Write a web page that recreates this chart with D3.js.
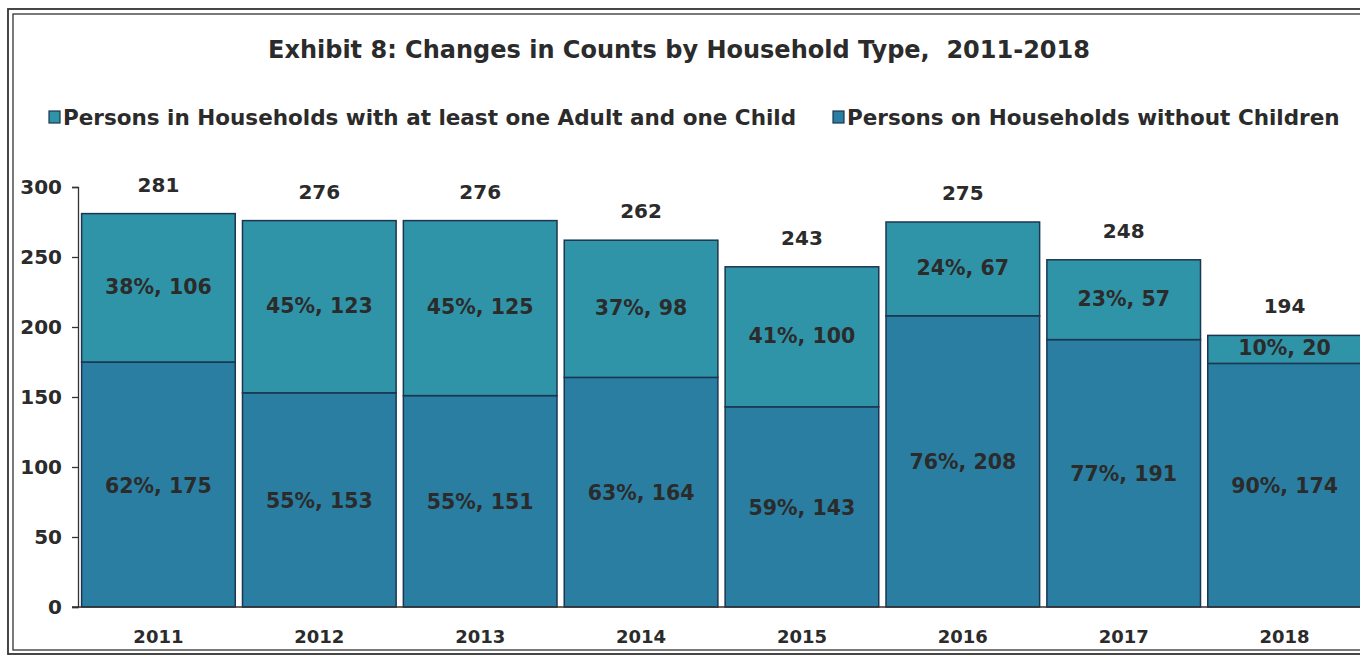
<!DOCTYPE html>
<html>
<head>
<meta charset="utf-8">
<script src="https://cdnjs.cloudflare.com/ajax/libs/d3/7.8.5/d3.min.js"></script>
<style>
  body { margin: 0; background: #fff; overflow: hidden; }
  svg text { font-family: "DejaVu Sans", sans-serif; font-weight: bold; fill: #2b2b2b; }
</style>
</head>
<body>
<svg id="canvas" width="1360" height="657"></svg>
<script>
let years = ['2011', '2012', '2013', '2014', '2015', '2016', '2017', '2018'];
let withChild = [106, 123, 125, 98, 100, 67, 57, 20];
let withChildPct = [38, 45, 45, 37, 41, 24, 23, 10];
let noChild = [175, 153, 151, 164, 143, 208, 191, 174];
let noChildPct = [62, 55, 55, 63, 59, 76, 77, 90];
let yTicks = [0, 50, 100, 150, 200, 250, 300];

let legendNames = ['Persons in Households with at least one Adult and one Child',
                   'Persons on Households without Children'];
let colTop = '#3094a8';
let colBottom = '#2a7ea2';
let edge = '#1c3550';

let svg = d3.select('#canvas');

// double frame
svg.append('rect').attr('x', 8).attr('y', 9).attr('width', 1400).attr('height', 645)
    .attr('fill', 'none').attr('stroke', '#333').attr('stroke-width', 1.8);
svg.append('rect').attr('x', 13).attr('y', 14).attr('width', 1400).attr('height', 636)
    .attr('fill', 'none').attr('stroke', '#333').attr('stroke-width', 1.3);

// title
svg.append('text').attr('x', 679).attr('y', 58).attr('text-anchor', 'middle')
    .style('font-size', '24px').style('white-space', 'pre')
    .text('Exhibit 8: Changes in Counts by Household Type,  2011-2018');

// legend
let legend = [{x: 49, name: legendNames[0], color: colTop},
              {x: 833, name: legendNames[1], color: colBottom}];
legend.forEach((d) => {
    svg.append('rect').attr('x', d.x).attr('y', 111).attr('width', 11).attr('height', 12)
        .attr('fill', d.color).attr('stroke', edge).attr('stroke-width', 1.2);
    svg.append('text').attr('x', d.x + 14).attr('y', 125)
        .style('font-size', '21.5px').text(d.name);
});

let x = d3.scaleBand().domain(years).range([80, 1363]).paddingInner(0.045).paddingOuter(0.01);
let y = d3.scaleLinear().domain([0, 300]).range([607, 187]);

// y axis
let yAxis = svg.append('g').attr('transform', 'translate(78,0)')
    .call(d3.axisLeft(y).tickValues(yTicks).tickSize(6).tickPadding(10));
yAxis.select('.domain').attr('stroke', '#333').attr('stroke-width', 1.3);
yAxis.selectAll('.tick line').attr('stroke', '#333').attr('stroke-width', 1.3);
yAxis.selectAll('.tick text').style('font-size', '20px').attr('fill', '#2b2b2b');

// bars
let rows = years.map((yr, i) => ({
    year: yr, a: noChild[i], b: withChild[i], pa: noChildPct[i], pb: withChildPct[i]
}));

let g = svg.append('g');
g.selectAll('.bottom').data(rows).enter().append('rect')
    .attr('x', (d) => x(d.year)).attr('width', x.bandwidth())
    .attr('y', (d) => y(d.a)).attr('height', (d) => y(0) - y(d.a))
    .attr('fill', colBottom).attr('stroke', edge).attr('stroke-width', 1.5);
g.selectAll('.top').data(rows).enter().append('rect')
    .attr('x', (d) => x(d.year)).attr('width', x.bandwidth())
    .attr('y', (d) => y(d.a + d.b)).attr('height', (d) => y(d.a) - y(d.a + d.b))
    .attr('fill', colTop).attr('stroke', edge).attr('stroke-width', 1.5);

// segment labels
g.selectAll('.lblA').data(rows).enter().append('text')
    .attr('x', (d) => x(d.year) + x.bandwidth() / 2)
    .attr('y', (d) => (y(0) + y(d.a)) / 2 + 8)
    .attr('text-anchor', 'middle').style('font-size', '20.5px').attr('fill', '#2a3038')
    .text((d) => d.pa + '%, ' + d.a);
g.selectAll('.lblB').data(rows).enter().append('text')
    .attr('x', (d) => x(d.year) + x.bandwidth() / 2)
    .attr('y', (d) => (y(d.a) + y(d.a + d.b)) / 2 + 6)
    .attr('text-anchor', 'middle').style('font-size', '20.5px').attr('fill', '#2a3038')
    .text((d) => d.pb + '%, ' + d.b);

// totals
g.selectAll('.total').data(rows).enter().append('text')
    .attr('x', (d) => x(d.year) + x.bandwidth() / 2)
    .attr('y', (d) => y(d.a + d.b) - 22)
    .attr('text-anchor', 'middle').style('font-size', '20px')
    .text((d) => d.a + d.b);

// baseline
svg.append('line').attr('x1', 72).attr('x2', 1365).attr('y1', y(0)).attr('y2', y(0))
    .attr('stroke', '#333').attr('stroke-width', 1.4);

// year labels
svg.selectAll('.year').data(years).enter().append('text')
    .attr('x', (d) => x(d) + x.bandwidth() / 2).attr('y', 643)
    .attr('text-anchor', 'middle').style('font-size', '18px')
    .text((d) => d);
</script>
</body>
</html>
